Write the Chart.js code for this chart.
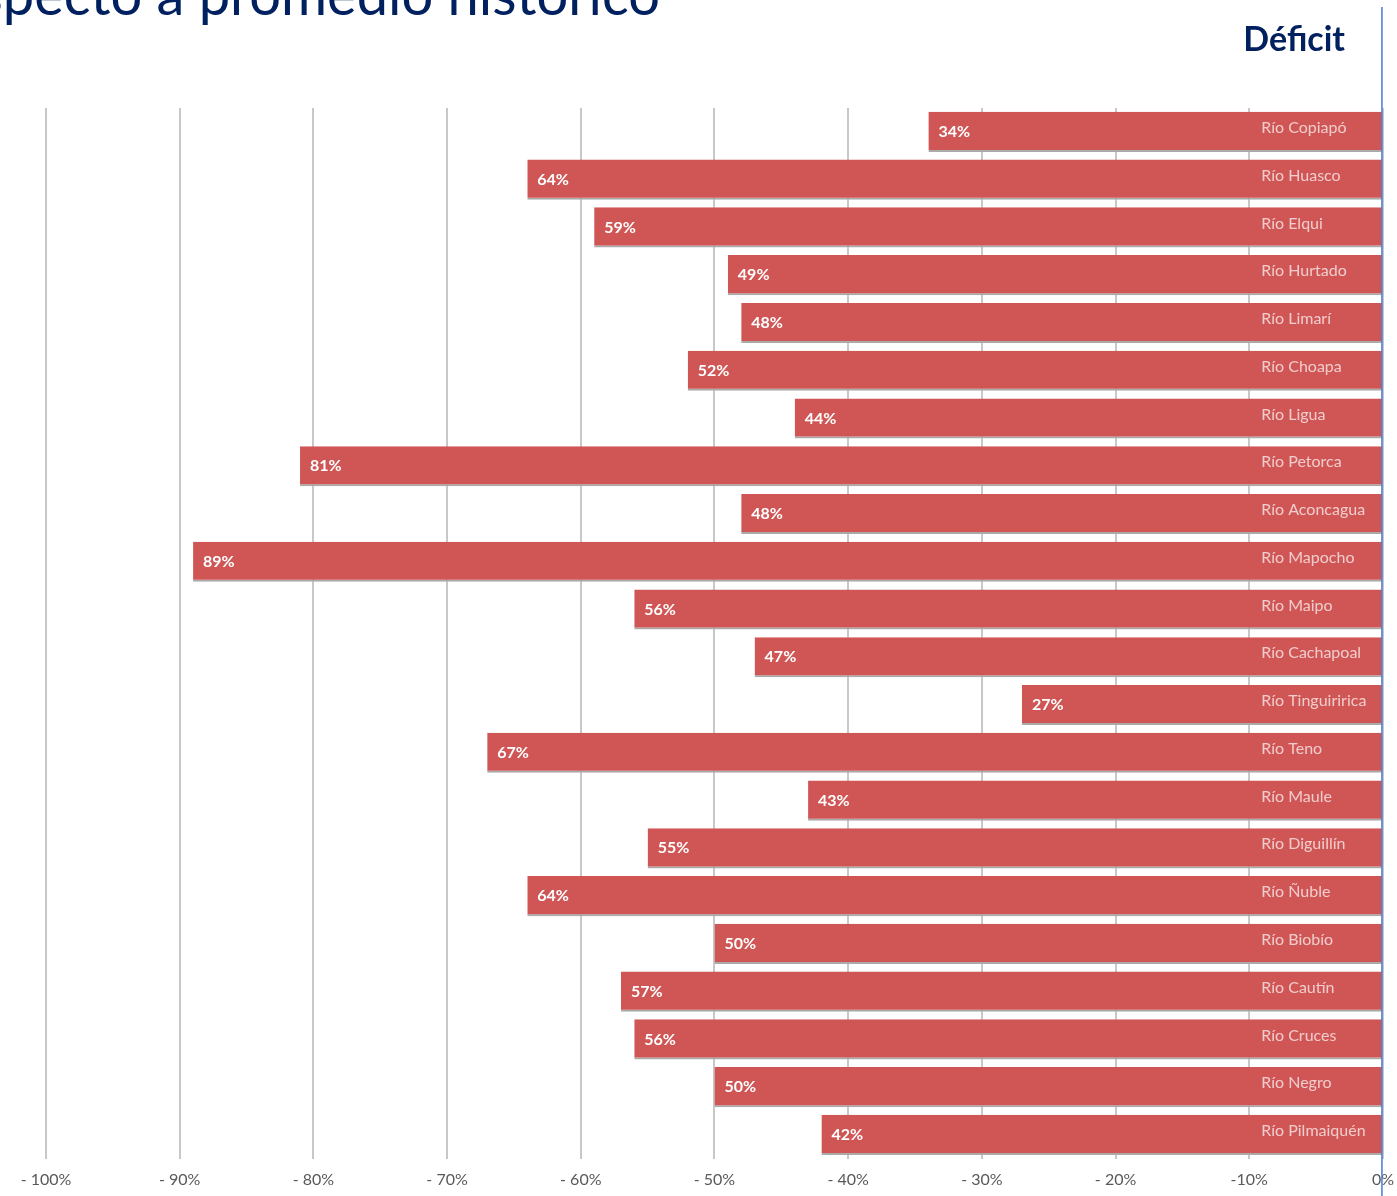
<!DOCTYPE html>
<html lang="es">
<head>
<meta charset="utf-8">
<title>Déficit respecto a promedio histórico</title>
<script src="https://cdn.jsdelivr.net/npm/chart.js@4.4.1/dist/chart.umd.min.js"></script>
<style>
  html, body { margin: 0; padding: 0; background: #fff; overflow: hidden; }
  #wrap { position: relative; width: 1397px; height: 1196px; overflow: hidden; }
  #chart { position: absolute; left: 0; top: 0; }
  .title {
    position: absolute; right: 737px; top: -34px; white-space: nowrap;
    font-family: Lato, sans-serif; font-size: 56px; line-height: 56px; color: #002060;
  }
  .deficit {
    position: absolute; right: 52px; top: 21px; white-space: nowrap;
    font-family: Lato, sans-serif; font-weight: bold; font-size: 34px; line-height: 34px; color: #002060;
  }
</style>
</head>
<body>
<div id="wrap">
  <canvas id="chart" width="1405" height="1210"></canvas>
  <div class="title">Caudales respecto a promedio histórico</div>
  <div class="deficit">Déficit</div>
</div>
<script>
// rivers, north to south
const rivers = [
  'Río Copiapó', 'Río Huasco', 'Río Elqui', 'Río Hurtado', 'Río Limarí', 'Río Choapa',
  'Río Ligua', 'Río Petorca', 'Río Aconcagua', 'Río Mapocho', 'Río Maipo', 'Río Cachapoal',
  'Río Tinguiririca', 'Río Teno', 'Río Maule', 'Río Diguillín', 'Río Ñuble', 'Río Biobío',
  'Río Cautín', 'Río Cruces', 'Río Negro', 'Río Pilmaiquén'
];

// deficit vs. historical average (%)
const deficit = [34, 64, 59, 49, 48, 52, 44, 81, 48, 89, 56, 47, 27, 67, 43, 55, 64, 50, 57, 56, 50, 42];

const tickLabels = ['- 100%', '- 90%', '- 80%', '- 70%', '- 60%', '- 50%', '- 40%', '- 30%', '- 20%', '-10%', '0%'];

const barColor = '#d05656';
const labelAnchor = -9.1; // where the river names start, in axis units

const barLabels = {
  id: 'barLabels',
  afterDatasetsDraw(chart) {
    const ctx = chart.ctx;
    const meta = chart.getDatasetMeta(0);
    const xs = chart.scales.x;
    ctx.save();
    ctx.textBaseline = 'middle';
    ctx.textAlign = 'left';
    meta.data.forEach((bar, i) => {
      ctx.fillStyle = '#ffffff';
      ctx.font = 'bold 16px Lato, sans-serif';
      ctx.fillText(deficit[i] + '%', bar.x + 10, bar.y);
      ctx.fillStyle = 'rgba(255,255,255,0.7)';
      ctx.font = '16px Lato, sans-serif';
      ctx.fillText(rivers[i], xs.getPixelForValue(labelAnchor), bar.y - 4);
    });
    ctx.restore();
  },
  afterDraw(chart) {
    const ctx = chart.ctx;
    const x = chart.scales.x.getPixelForValue(0) - 1;
    ctx.save();
    ctx.strokeStyle = '#4a7bd0';
    ctx.lineWidth = 1.5;
    ctx.beginPath();
    ctx.moveTo(x, 7);
    ctx.lineTo(x, chart.height);
    ctx.stroke();
    ctx.restore();
  }
};

new Chart(document.getElementById('chart').getContext('2d'), {
  type: 'bar',
  data: {
    labels: rivers,
    datasets: [{
      data: deficit.map(v => -v),
      backgroundColor: barColor,
      borderColor: '#aaaaaa',
      borderWidth: { top: 0, left: 0, right: 0, bottom: 2 },
      borderSkipped: false,
      barPercentage: 0.84,
      categoryPercentage: 1.0,
    }],
  },
  options: {
    indexAxis: 'y',
    responsive: false,
    animation: false,
    layout: { padding: { left: 46, right: 0, top: 108, bottom: 10 } },
    plugins: {
      legend: { display: false },
      tooltip: { enabled: false },
    },
    scales: {
      x: {
        min: -100,
        max: 0,
        ticks: {
          stepSize: 10,
          padding: 11,
          color: '#595959',
          font: { family: 'Lato, sans-serif', size: 16 },
          maxRotation: 0,
          callback: (v) => tickLabels[Math.round((v + 100) / 10)],
        },
        grid: { color: '#c8c8c8', lineWidth: 2, drawTicks: false },
        border: { display: false },
      },
      y: {
        display: false,
        grid: { display: false },
      },
    },
  },
  plugins: [barLabels],
});
</script>
</body>
</html>
